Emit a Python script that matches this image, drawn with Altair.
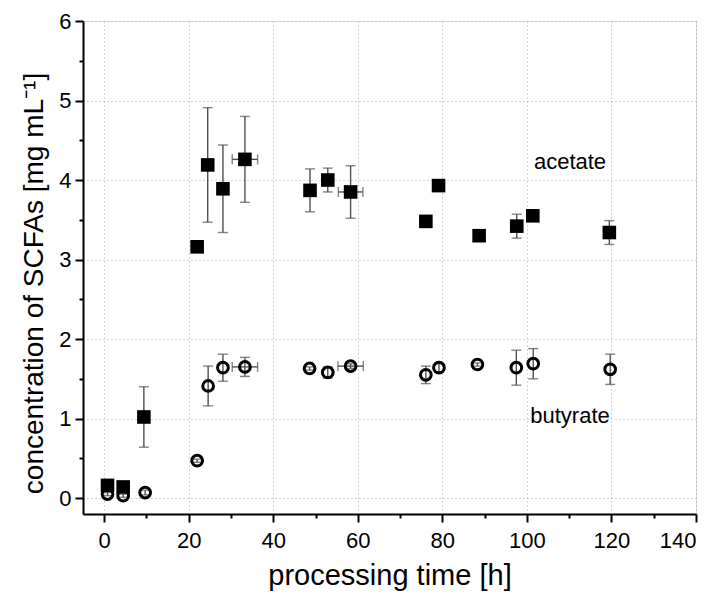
import altair as alt
import pandas as pd

# ---- data ----
time_acetate = [0.8, 4.5, 9.4, 22.0, 24.5, 28.1, 33.3, 48.7, 52.9, 58.3, 76.1, 79.1, 88.7, 97.6, 101.4, 119.5]
acetate = [0.16, 0.14, 1.02, 3.16, 4.19, 3.89, 4.26, 3.87, 4.00, 3.85, 3.48, 3.93, 3.30, 3.42, 3.55, 3.34]
acetate_sd = [0.0, 0.0, 0.38, 0.0, 0.72, 0.55, 0.54, 0.27, 0.15, 0.33, 0.0, 0.0, 0.0, 0.15, 0.0, 0.15]
acetate_time_sd = [0, 0, 0, 0, 0, 0, 3.0, 0, 0, 2.9, 0, 0, 0, 0, 0, 0]

time_butyrate = [0.8, 4.5, 9.7, 22.0, 24.6, 28.1, 33.3, 48.6, 52.9, 58.3, 76.1, 79.2, 88.3, 97.5, 101.5, 119.7]
butyrate = [0.05, 0.03, 0.07, 0.47, 1.41, 1.64, 1.65, 1.63, 1.58, 1.66, 1.55, 1.64, 1.68, 1.64, 1.69, 1.62]
butyrate_sd = [0.02, 0.02, 0.03, 0.02, 0.25, 0.17, 0.12, 0.02, 0.07, 0.03, 0.11, 0.05, 0.02, 0.22, 0.19, 0.19]
butyrate_time_sd = [0, 0, 0, 0, 0, 0, 3.0, 0, 0, 3.0, 0, 0, 0, 0, 0, 0]

x_ticks = [0, 20, 40, 60, 80, 100, 120, 140]
x_minor = [10, 30, 50, 70, 90, 110, 130]
y_ticks = [0, 1, 2, 3, 4, 5, 6]
y_minor = [0.5, 1.5, 2.5, 3.5, 4.5, 5.5]

labels = ["acetate", "butyrate"]
label_t = [110.2, 110.2]
label_v = [4.23, 1.03]

# ---- tables ----
ac = pd.DataFrame({"t": time_acetate, "v": acetate, "sd": acetate_sd, "tsd": acetate_time_sd})
bu = pd.DataFrame({"t": time_butyrate, "v": butyrate, "sd": butyrate_sd, "tsd": butyrate_time_sd})
allp = pd.concat([ac, bu], ignore_index=True)
allp["lo"] = allp["v"] - allp["sd"]
allp["hi"] = allp["v"] + allp["sd"]
allp["tlo"] = allp["t"] - allp["tsd"]
allp["thi"] = allp["t"] + allp["tsd"]
verr = allp[allp["sd"] > 0].reset_index(drop=True)
herr = allp[allp["tsd"] > 0].reset_index(drop=True)
vcaps = pd.concat([verr[["t"]].assign(y=verr["lo"]), verr[["t"]].assign(y=verr["hi"])], ignore_index=True)
hcaps = pd.concat([herr[["v"]].assign(x=herr["tlo"]), herr[["v"]].assign(x=herr["thi"])], ignore_index=True)
lab = pd.DataFrame({"label": labels, "t": label_t, "v": label_v})

FONT = "Liberation Sans"
xs = alt.Scale(domain=[-5, 140], nice=False, zero=False)
ys = alt.Scale(domain=[-0.2, 6], nice=False, zero=False)

GRID = dict(grid=True, gridDash=[1, 3], gridColor="#a8a8a8", gridWidth=1)

main_x = alt.Axis(values=x_ticks, orient="bottom", title="processing time [h]",
                  tickSize=8, tickWidth=2, tickColor="black",
                  domainColor="black", domainWidth=2,
                  labelFont=FONT, labelFontSize=22, labelColor="black", labelPadding=8,
                  titleFont=FONT, titleFontSize=29, titleFontWeight="normal",
                  titleColor="black", titlePadding=10, **GRID)
main_y = alt.Axis(values=y_ticks, orient="left", title="concentration of SCFAs [mg mL\u207B\u00B9]",
                  tickSize=8, tickWidth=2, tickColor="black",
                  domainColor="black", domainWidth=2,
                  labelFont=FONT, labelFontSize=22, labelColor="black", labelPadding=4,
                  titleFont=FONT, titleFontSize=28, titleFontWeight="normal",
                  titleColor="black", titlePadding=10, titleY=262, **GRID)
minor_x = alt.Axis(values=x_minor, orient="bottom", title=None, labels=False, grid=False,
                   domain=False, tickSize=4, tickWidth=2, tickColor="black")
minor_y = alt.Axis(values=y_minor, orient="left", title=None, labels=False, grid=False,
                   domain=False, tickSize=4, tickWidth=2, tickColor="black")

ERR = "#505050"

axes_layer = alt.Chart(allp).mark_point(opacity=0).encode(
    x=alt.X("t:Q", scale=xs, axis=main_x),
    y=alt.Y("v:Q", scale=ys, axis=main_y),
)
minor_layer = alt.Chart(allp).mark_point(opacity=0).encode(
    x=alt.X("t:Q", scale=xs, axis=minor_x),
    y=alt.Y("v:Q", scale=ys, axis=minor_y),
)
vbars = alt.Chart(verr).mark_rule(color=ERR, strokeWidth=1.4).encode(
    x=alt.X("t:Q", scale=xs, axis=None),
    y=alt.Y("lo:Q", scale=ys, axis=None),
    y2="hi:Q",
)
vcap = alt.Chart(vcaps).mark_tick(color=ERR, orient="horizontal", size=10, thickness=1.4).encode(
    x=alt.X("t:Q", scale=xs, axis=None),
    y=alt.Y("y:Q", scale=ys, axis=None),
)
hbars = alt.Chart(herr).mark_rule(color=ERR, strokeWidth=1.4).encode(
    x=alt.X("tlo:Q", scale=xs, axis=None),
    x2="thi:Q",
    y=alt.Y("v:Q", scale=ys, axis=None),
)
hcap = alt.Chart(hcaps).mark_tick(color=ERR, orient="vertical", size=10, thickness=1.4).encode(
    x=alt.X("x:Q", scale=xs, axis=None),
    y=alt.Y("v:Q", scale=ys, axis=None),
)
squares = alt.Chart(ac).mark_point(shape="square", filled=True, color="black", size=185, opacity=1).encode(
    x=alt.X("t:Q", scale=xs, axis=None),
    y=alt.Y("v:Q", scale=ys, axis=None),
)
circles = alt.Chart(bu).mark_point(shape="circle", filled=False, color="black", size=115,
                                    strokeWidth=3, opacity=1).encode(
    x=alt.X("t:Q", scale=xs, axis=None),
    y=alt.Y("v:Q", scale=ys, axis=None),
)
texts = alt.Chart(lab).mark_text(font=FONT, fontSize=22, color="black", align="center", baseline="middle").encode(
    x=alt.X("t:Q", scale=xs, axis=None),
    y=alt.Y("v:Q", scale=ys, axis=None),
    text="label:N",
)

chart = alt.layer(
    axes_layer, minor_layer, vbars, vcap, hbars, hcap, squares, circles, texts
).resolve_axis(x="independent", y="independent").properties(
    width=613, height=493,
    autosize=alt.AutoSizeParams(type="none"),
    padding={"left": 75, "top": 13, "right": 13, "bottom": 80},
).configure_view(stroke="black", strokeWidth=2).configure(background="white")

chart.save("out.html", embed_options={"renderer": "svg", "actions": False})
